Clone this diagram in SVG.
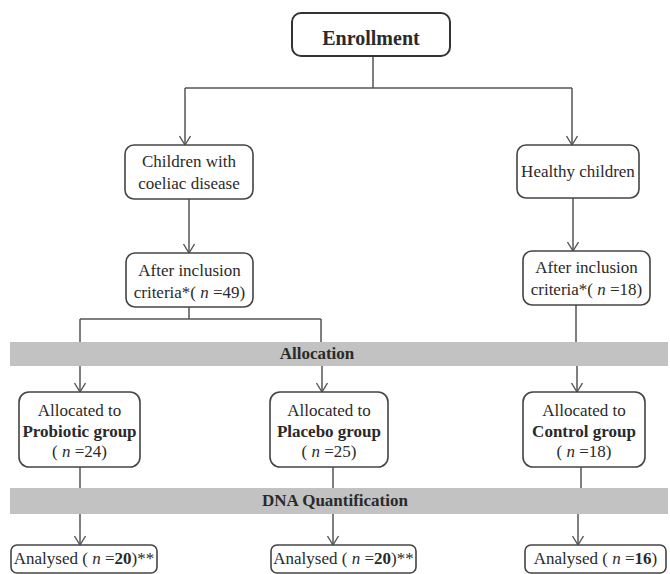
<svg xmlns="http://www.w3.org/2000/svg" width="670" height="574" viewBox="0 0 670 574" font-family="'Liberation Serif', 'DejaVu Serif', serif">
<style>
.box{fill:#fff;stroke:#444;stroke-width:1.6}
.bar{fill:#c2c2c2;stroke:none}
.t{font-family:'Liberation Serif','DejaVu Serif',serif;font-size:17px;fill:#2a2a2a;text-anchor:middle}
.b{font-weight:bold}
.i{font-style:italic}
.c{fill:none;stroke:#555;stroke-width:1.5}
</style>
<defs>
<marker id="arr" markerWidth="14" markerHeight="12" refX="12" refY="6" orient="auto" markerUnits="userSpaceOnUse">
<path d="M3,0.5 L12,6 L3,11.5" fill="none" stroke="#555" stroke-width="1.4"/>
</marker>
</defs>
<rect x="0" y="0" width="670" height="574" fill="#fff"/>
<g id="bars">
<rect class="bar" x="10" y="342" width="658" height="24"/>
<text class="t b" x="317" y="359">Allocation</text>
<rect class="bar" x="10" y="488" width="658" height="26"/>
<text class="t b" x="335" y="506">DNA Quantification</text>
</g>
<g id="connectors">
<path class="c" d="M373,56 V88 M185,88 H572"/>
<path class="c" d="M185,88 V145" marker-end="url(#arr)"/>
<path class="c" d="M572,88 V145" marker-end="url(#arr)"/>
<path class="c" d="M189,199 V253" marker-end="url(#arr)"/>
<path class="c" d="M573,198 V251" marker-end="url(#arr)"/>
<path class="c" d="M189,307 V319 M80,319 H321 M80,319 V342 M321,319 V342 M576,305 V342"/>
<path class="c" d="M80,366 V392" marker-end="url(#arr)"/>
<path class="c" d="M322,366 V392" marker-end="url(#arr)"/>
<path class="c" d="M577,366 V392" marker-end="url(#arr)"/>
<path class="c" d="M80,467 V488 M333,467 V488 M581,467 V488"/>
<path class="c" d="M80,514 V545" marker-end="url(#arr)"/>
<path class="c" d="M333,514 V545" marker-end="url(#arr)"/>
<path class="c" d="M578,514 V545" marker-end="url(#arr)"/>
</g>
<g id="enrollment">
<rect class="box" x="292" y="13" width="158" height="43" rx="9" style="stroke:#333;stroke-width:2"/>
<text class="t b" x="371" y="45" style="font-size:20px">Enrollment</text>
</g>
<g id="coeliac">
<rect class="box" x="125" y="145" width="128" height="54" rx="9"/>
<text class="t" x="189" y="167">Children with</text>
<text class="t" x="189" y="189">coeliac disease</text>
</g>
<g id="healthy">
<rect class="box" x="517" y="145" width="122" height="53" rx="9"/>
<text class="t" x="578" y="177">Healthy children</text>
</g>
<g id="inclusion-left">
<rect class="box" x="126" y="253" width="127" height="54" rx="9"/>
<text class="t" x="189.5" y="276">After inclusion</text>
<text class="t" x="189.5" y="298">criteria*( <tspan class="i">n</tspan> =49)</text>
</g>
<g id="inclusion-right">
<rect class="box" x="523" y="251" width="127" height="54" rx="9"/>
<text class="t" x="586.5" y="273">After inclusion</text>
<text class="t" x="586.5" y="295">criteria*( <tspan class="i">n</tspan> =18)</text>
</g>
<g id="probiotic">
<rect class="box" x="19" y="392" width="121" height="75" rx="10"/>
<text class="t" x="79.5" y="416">Allocated to</text>
<text class="t b" x="79.5" y="437">Probiotic group</text>
<text class="t" x="79.5" y="457">( <tspan class="i">n</tspan> =24)</text>
</g>
<g id="placebo">
<rect class="box" x="270" y="392" width="118" height="75" rx="10"/>
<text class="t" x="329" y="416">Allocated to</text>
<text class="t b" x="329" y="437">Placebo group</text>
<text class="t" x="329" y="457">( <tspan class="i">n</tspan> =25)</text>
</g>
<g id="control">
<rect class="box" x="523" y="392" width="122" height="75" rx="10"/>
<text class="t" x="584" y="416">Allocated to</text>
<text class="t b" x="584" y="437">Control group</text>
<text class="t" x="584" y="457">( <tspan class="i">n</tspan> =18)</text>
</g>
<g id="analysed-probiotic">
<rect class="box" x="11" y="545" width="146" height="28" rx="6"/>
<text class="t" x="84" y="564">Analysed ( <tspan class="i">n</tspan> =<tspan class="b">20</tspan>)**</text>
</g>
<g id="analysed-placebo">
<rect class="box" x="271" y="545" width="145" height="28" rx="6"/>
<text class="t" x="343.5" y="564">Analysed ( <tspan class="i">n</tspan> =<tspan class="b">20</tspan>)**</text>
</g>
<g id="analysed-control">
<rect class="box" x="525" y="545" width="141" height="28" rx="6"/>
<text class="t" x="595.5" y="564">Analysed ( <tspan class="i">n</tspan> =<tspan class="b">16</tspan>)</text>
</g>
</svg>
